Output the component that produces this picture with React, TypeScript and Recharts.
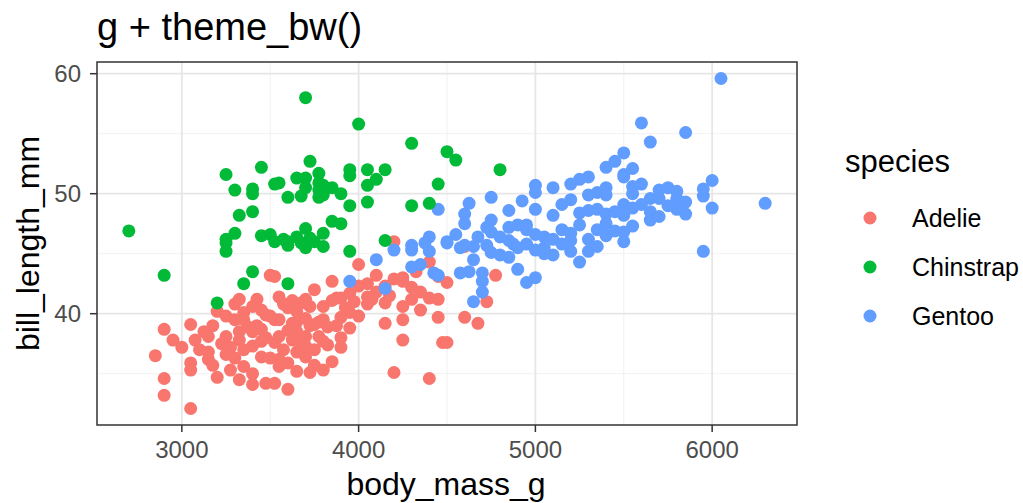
import { ScatterChart, Scatter, XAxis, YAxis, CartesianGrid, ReferenceArea } from 'recharts';

// body_mass_g, bill_length_mm pairs
const adelie: [number, number][] = [
  [3500, 43.2], [3325, 41.2], [3425, 41.2], [3200, 40.2], [3250, 39.8], [3300, 39.5], [3050, 39.1],
  [2900, 38.7], [2950, 37.8], [3000, 37.2], [3075, 37.8], [3150, 38.1], [3325, 38.5], [3325, 37.8],
  [3400, 38.5], [3475, 38.0], [3400, 37.3], [2850, 36.5], [3050, 35.9], [3150, 36.2], [3175, 35.7],
  [3050, 35.3], [3200, 34.7], [2900, 34.6], [2900, 33.2], [3050, 32.1], [3300, 36.3], [3350, 35.6],
  [3325, 34.5], [3400, 34.1], [3475, 34.2], [3450, 36.4], [3500, 36.3], [3350, 39.5], [3500, 39.8],
  [3400, 40.6], [3450, 40.3], [3525, 39.5], [4000, 44.1], [4100, 43.2], [4150, 39.2], [4250, 37.8],
  [4200, 35.1], [4400, 34.6], [4450, 39.7], [4475, 37.6], [4400, 44.3], [4450, 43.1], [4500, 42.6],
  [4250, 43.0], [4300, 42.2], [4300, 41.2], [4350, 40.3], [4400, 41.3], [4250, 39.5], [4250, 40.6],
  [4050, 41.4], [4075, 41.2], [3950, 41.7], [3975, 41.0], [3900, 41.3], [3875, 41.3], [3900, 39.7],
  [3950, 38.8], [3900, 38.0], [3900, 37.2], [3800, 40.6], [3825, 38.9], [3775, 39.3], [3775, 38.1],
  [3800, 35.3], [3725, 35.1], [3700, 36.4], [3700, 41.2], [3725, 40.6], [3700, 38.1], [3625, 39.2],
  [3625, 37.8], [3550, 36.2], [3550, 35.6], [3525, 37.6], [3600, 33.7], [3525, 34.2], [3525, 43.1],
  [3550, 41.4], [3550, 39.5], [3650, 39.3], [4775, 43.2], [4725, 41.0], [4600, 39.7], [4675, 39.2],
  [4500, 37.6], [4600, 45.6], [4200, 46.0], [3600, 40.5], [3650, 40.2], [3700, 39.6], [3450, 38.7],
  [3550, 38.1], [3600, 38.6], [3350, 37.0], [3250, 36.6], [3150, 36.8], [3100, 37.0], [3250, 38.1],
  [3800, 37.7], [3750, 39.1], [3800, 39.5], [3650, 36.8], [3600, 35.9], [3700, 37.3], [3850, 36.0],
  [3950, 40.1], [4000, 39.8], [4050, 40.8], [4100, 41.8], [4150, 40.9], [4150, 42.3], [4200, 42.9],
  [4250, 42.7], [3300, 40.8], [3350, 40.1], [3375, 38.9], [3425, 39.0], [3475, 39.9], [3575, 40.8],
  [3625, 41.1], [3675, 40.9], [3725, 39.0], [3675, 37.6], [3750, 37.0], [3650, 38.5], [3575, 37.0],
  [3450, 37.7], [3225, 37.5], [3275, 37.2], [3125, 38.5], [3175, 39.0], [3850, 41.1], [3875, 39.0],
  [3825, 37.4], [3750, 35.7], [3650, 35.2], [3400, 35.0], [3275, 35.3], [3925, 40.5], [4050, 42.5],
  [4175, 41.5], [4350, 41.8], [4325, 43.5], [4450, 41.2], [3750, 42.0], [3850, 42.7], [4000, 42.3],
];

const chinstrap: [number, number][] = [
  [2700, 46.9], [2900, 43.2], [3700, 58.0], [4000, 55.8], [4300, 54.2], [4500, 53.5], [4550, 52.8],
  [4800, 52.0], [3725, 52.7], [3950, 52.0], [4050, 52.0], [4150, 52.0], [3550, 50.9], [3650, 51.3],
  [3775, 51.7], [3700, 51.3], [3800, 50.7], [3950, 51.5], [4050, 50.7], [4100, 51.2], [4450, 50.8],
  [3600, 49.7], [3675, 49.8], [3775, 49.7], [3900, 50.0], [4050, 49.3], [3950, 49.0], [4300, 49.0],
  [4400, 49.2], [3850, 47.7], [3900, 47.5], [3800, 46.7], [3500, 46.6], [3575, 46.2], [3650, 46.4],
  [3700, 47.1], [4150, 46.1], [3450, 52.2], [3250, 51.6], [3300, 50.3], [3400, 50.4], [3400, 50.0],
  [3525, 50.8], [3400, 48.5], [3325, 48.2], [3300, 46.7], [3250, 46.2], [3450, 46.5], [3250, 45.2],
  [3250, 45.9], [3400, 43.5], [3350, 42.5], [3200, 40.9], [3950, 45.2], [3600, 42.5], [3600, 45.7],
  [3675, 45.9], [3750, 46.0], [3525, 46.0], [3700, 45.5], [3800, 45.6], [3600, 46.0], [3725, 46.3],
  [3775, 50.9], [3700, 50.5], [3800, 50.2], [3850, 50.5], [3800, 49.9], [3775, 50.3],
];

const gentoo: [number, number][] = [
  [6050, 59.6], [5600, 55.9], [5850, 55.1], [5650, 54.3], [5500, 53.4], [5550, 52.1], [5500, 51.6],
  [5600, 50.8], [5550, 50.6], [5550, 50.0], [6000, 51.1], [5700, 50.3], [5750, 50.5], [5650, 49.6],
  [5700, 49.6], [5800, 49.6], [5850, 49.3], [5800, 48.7], [5850, 48.3], [5950, 49.8], [6000, 48.8],
  [6300, 49.2], [5500, 49.1], [5500, 48.2], [5650, 47.8], [5500, 46.8], [5950, 45.2], [5450, 52.7],
  [5400, 52.2], [5500, 51.4], [5300, 51.4], [5250, 51.2], [5200, 50.8], [5000, 50.7], [5000, 50.1],
  [5400, 50.5], [5350, 50.1], [5400, 49.9], [4750, 49.7], [4925, 49.4], [4625, 49.2], [5150, 49.1],
  [4600, 48.3], [4850, 48.6], [5300, 48.6], [5350, 48.7], [5400, 48.3], [5100, 48.2], [4750, 47.8],
  [4600, 47.5], [4900, 47.4], [4950, 47.4], [5400, 47.5], [4725, 47.2], [5250, 47.4], [5150, 47.0],
  [4550, 46.6], [4675, 46.4], [4800, 46.4], [5000, 46.6], [5050, 46.4], [5200, 46.7], [5300, 46.2],
  [5500, 46.0], [4875, 45.8], [4950, 45.8], [4450, 48.7], [4400, 46.4], [4500, 46.0], [4300, 45.7],
  [4100, 44.5], [3950, 42.7], [4150, 42.1], [4200, 45.3], [4300, 45.3], [4375, 45.9], [4400, 45.2],
  [4300, 43.9], [4350, 44.1], [4425, 43.4], [4450, 43.2], [4500, 45.9], [4650, 45.6], [4725, 45.7],
  [4750, 45.1], [4850, 44.7], [4900, 43.7], [4950, 42.6], [5000, 43.0], [5000, 45.3], [5050, 45.0],
  [5100, 44.9], [5200, 45.2], [5250, 44.3], [5300, 45.2], [4575, 43.4], [4625, 43.5], [4700, 43.4],
  [4700, 42.7], [4700, 41.8], [4650, 41.0], [4600, 45.7], [4850, 46.1], [4900, 45.5], [5050, 45.5],
  [5100, 46.2], [5150, 45.8], [5200, 46.1], [5350, 45.6], [5400, 46.5], [5450, 46.9], [5350, 47.0],
  [5550, 47.3], [5600, 49.1], [5650, 48.5], [5700, 48.1], [5750, 49.0], [5800, 50.2], [5950, 50.4],
  [5550, 48.8], [5450, 48.5], [5300, 49.9], [5250, 48.4], [5200, 49.5], [5100, 50.5], [5000, 48.7],
  [4950, 47.0], [4850, 47.2], [4750, 46.8], [4800, 44.9], [4650, 44.5], [4575, 45.5],
];

const speciesNames = ['Adelie', 'Chinstrap', 'Gentoo'];
const speciesColors = ['#F8766D', '#00BA38', '#619CFF'];

const xTicks = [3000, 4000, 5000, 6000];
const yTicks = [40, 50, 60];
const xMinor = [3500, 4500, 5500];
const yMinor = [35, 45, 55];

// ggplot default 5% expansion of the data range
const xDomain = [2520, 6480];
const yDomain = [30.725, 60.975];

const FONT = '"Liberation Sans", Arial, Helvetica, sans-serif';

const toPoints = (rows: [number, number][]) => rows.map(([m, b]) => ({ body_mass_g: m, bill_length_mm: b }));

const dot = (color: string) => (props: any) => (
  <circle cx={props.cx} cy={props.cy} r={6.5} fill={color} />
);

export default function App() {
  const series = [
    { name: 'Adelie', data: toPoints(adelie), color: speciesColors[0] },
    { name: 'Gentoo', data: toPoints(gentoo), color: speciesColors[2] },
    { name: 'Chinstrap', data: toPoints(chinstrap), color: speciesColors[1] },
  ];
  const tickStyle = { fill: '#4D4D4D', fontSize: 24, fontFamily: FONT };

  return (
    <div style={{ position: 'absolute', left: 0, top: 0, width: 1023, height: 503, background: '#fff' }}>
      <ScatterChart width={1023} height={503} margin={{ top: 62, right: 226, bottom: 38, left: 37 }}>
        <CartesianGrid horizontalValues={yMinor} verticalValues={xMinor} stroke="#EDEDED" strokeWidth={0.8} />
        <CartesianGrid horizontalValues={yTicks} verticalValues={xTicks} stroke="#E6E6E6" strokeWidth={1.8} />
        <XAxis
          type="number"
          dataKey="body_mass_g"
          domain={xDomain}
          ticks={xTicks}
          height={40}
          axisLine={false}
          tickLine={{ stroke: '#333333', strokeWidth: 1.5 }}
          tickSize={7}
          tickMargin={9}
          tick={tickStyle}
          allowDataOverflow
        />
        <YAxis
          type="number"
          dataKey="bill_length_mm"
          domain={yDomain}
          ticks={yTicks}
          width={60}
          axisLine={false}
          tickLine={{ stroke: '#333333', strokeWidth: 1.5 }}
          tickSize={7}
          tickMargin={9}
          tick={tickStyle}
          allowDataOverflow
        />
        {series.map((s) => (
          <Scatter key={s.name} name={s.name} data={s.data} fill={s.color} shape={dot(s.color)} isAnimationActive={false} />
        ))}
        <ReferenceArea
          x1={xDomain[0]}
          x2={xDomain[1]}
          y1={yDomain[0]}
          y2={yDomain[1]}
          fill="none"
          fillOpacity={0}
          stroke="#333333"
          strokeWidth={1.5}
        />
      </ScatterChart>
      <svg width={1023} height={503} style={{ position: 'absolute', left: 0, top: 0, pointerEvents: 'none' }}>
        <text x={97} y={40} fontSize={38} fontFamily={FONT} fill="#000">g + theme_bw()</text>
        <text x={446} y={495} fontSize={32} fontFamily={FONT} fill="#000" textAnchor="middle">body_mass_g</text>
        <text transform="translate(39,243.5) rotate(-90)" fontSize={32} fontFamily={FONT} fill="#000" textAnchor="middle">
          bill_length_mm
        </text>
        <text x={845} y={172} fontSize={31} fontFamily={FONT} fill="#000">species</text>
        {speciesNames.map((name, i) => (
          <g key={name}>
            <circle cx={870} cy={218 + i * 49} r={6.5} fill={speciesColors[i]} />
            <text x={912} y={227 + i * 49} fontSize={25} fontFamily={FONT} fill="#000">{name}</text>
          </g>
        ))}
      </svg>
    </div>
  );
}
